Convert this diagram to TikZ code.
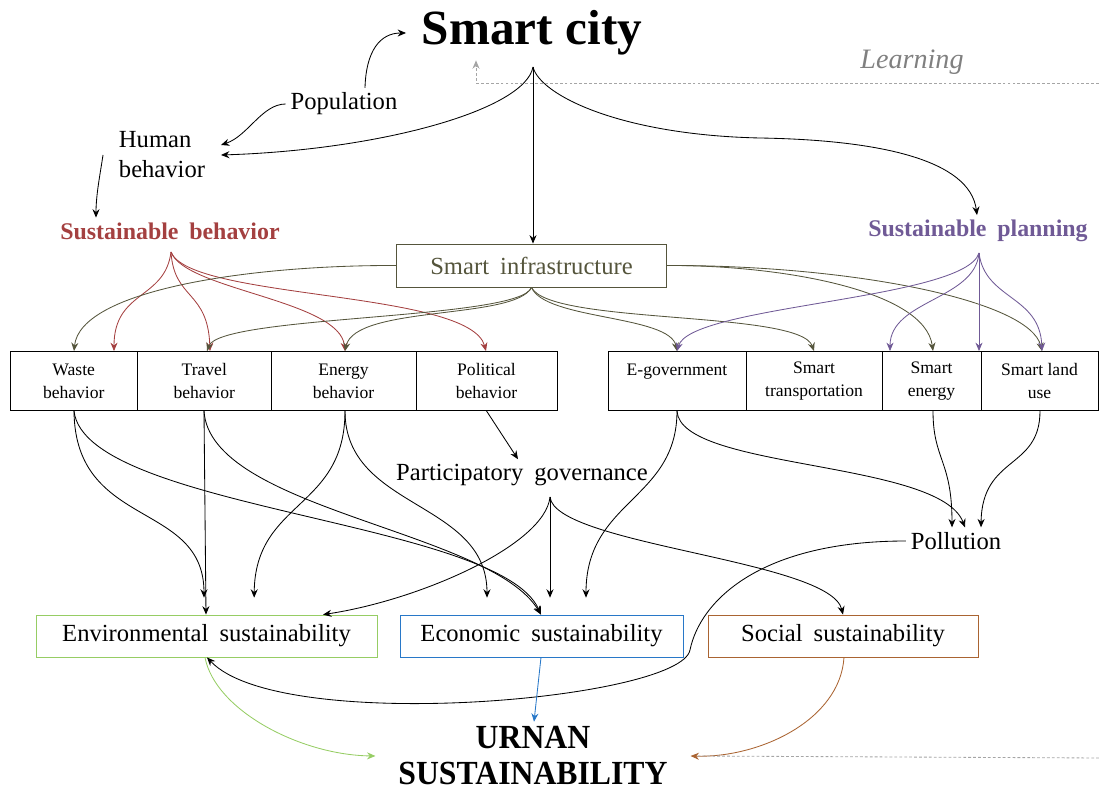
\documentclass[tikz,border=0pt]{standalone}
\usepackage{fontspec}
\setmainfont{Liberation Serif}[WordSpace=1.8]
\newfontfamily\boxfont{Liberation Serif}
\newfontfamily\capsfont{Liberation Serif}[FakeStretch=0.94]
\usetikzlibrary{arrows.meta}
\definecolor{behred}{RGB}{164,64,64}
\definecolor{planpurple}{RGB}{112,90,150}
\definecolor{infraolive}{RGB}{85,85,60}
\definecolor{envgreen}{RGB}{150,205,100}
\definecolor{econblue}{RGB}{40,120,200}
\definecolor{socbrown}{RGB}{170,100,50}
\definecolor{loopgrey}{RGB}{165,165,165}

\begin{document}
\begin{tikzpicture}[x=0.025cm, y=0.025cm,
  >={Stealth[length=6pt,width=5pt,inset=2pt]},
  lbl/.style={font=\fontsize{17.5}{21.3}\selectfont, align=center},
  cell/.style={draw, line width=0.6pt, minimum height=1.475cm, inner sep=0pt,
    font=\boxfont\fontsize{12.5}{16.4}\selectfont, align=center},
  sust/.style={draw, line width=0.6pt, minimum height=1.05cm, inner sep=0pt,
    font=\fontsize{17.5}{21.3}\selectfont},
  arr/.style={->, line width=0.6pt},
  gap/.style={shorten >=12pt},
  loop/.style={loopgrey, line width=0.6pt, dash pattern=on 2pt off 1.5pt}]
\useasboundingbox (0,0) rectangle (1099,791);

% labels
\node[font=\boxfont\bfseries\fontsize{35}{40}\selectfont, outer xsep=8pt] (city) at (532,758) {Smart city};
\node[font=\itshape\fontsize{20}{24}\selectfont, text=gray] (learn) at (912,729) {Learning};
\node[lbl] (pop) at (344,687) {Population};
\node[lbl, align=left, outer xsep=8pt] (human) at (162,636) {Human\\behavior};
\node[font=\bfseries\fontsize{17}{20}\selectfont, text=behred] (sbeh) at (170,560) {Sustainable behavior};
\node[font=\bfseries\fontsize{17}{20}\selectfont, text=planpurple] (spla) at (978,560) {Sustainable planning};
\node[sust, draw=infraolive, text=infraolive, minimum width=6.75cm, minimum height=1.075cm] (infra) at (531.5,525.5) {Smart infrastructure};

% behavior and planning cells
\node[cell, minimum width=3.1875cm] (waste) at (73.75,410) {Waste\\behavior};
\node[cell, minimum width=3.3375cm] (travel) at (204.25,410) {Travel\\behavior};
\node[cell, minimum width=3.625cm] (energy) at (343.5,410) {Energy\\behavior};
\node[cell, minimum width=3.525cm] (political) at (486.5,410) {Political\\behavior};
\node[cell, minimum width=3.45cm] (egov) at (677,410) {E-government\\~};
\node[cell, minimum width=3.4cm] (smarttr) at (814,410) {Smart\\transportation};
\node[cell, minimum width=2.475cm] (smarten) at (931.5,410) {Smart\\energy};
\node[cell, minimum width=2.925cm] (landuse) at (1039.5,410) {Smart land\\use};

\node[lbl] (partgov) at (522,316) {Participatory governance};
\node[lbl] (poll) at (956,250) {Pollution};

\node[sust, draw=envgreen, minimum width=8.525cm] (env) at (206.5,155) {Environmental sustainability};
\node[sust, draw=econblue, minimum width=7.075cm] (econ) at (541.5,155) {Economic sustainability};
\node[sust, draw=socbrown, minimum width=6.75cm] (social) at (843,155) {Social sustainability};
\node[font=\capsfont\bfseries\fontsize{24}{25.6}\selectfont, align=center, outer xsep=13pt] (urban) at (533,35) {URNAN\\SUSTAINABILITY};

\coordinate (cityfork) at (533,724);
\coordinate (bfork) at (171,539);
\coordinate (pfork) at (979,538);
\coordinate (gfork) at (550,294);
\coordinate (toploop) at (1099,708);
\coordinate (botloop) at (1099,33);
\coordinate (pbend) at (690,141);

% top
\draw[arr] (pop.north -| 365,0) .. controls (366,740) and (380,758) .. (city.west);
\draw[arr] (pop.west) .. controls (262,687) and (248,655) .. (human.east |- 0,646);
\draw[arr] (cityfork) .. controls (525,681) and (380,641) .. (human.east);
\draw[arr] (human.west) .. controls (100,616) and (96,596) .. (sbeh.north -| 96,0);
\draw[arr] (cityfork) .. controls (540,696) and (620,656) .. (760,653)
  .. controls (880,651) and (970,631) .. (spla.north -| 977,0);
\draw[arr] (cityfork) -- (cityfork |- infra.north);
\draw[loop, ->] (toploop) -| (city.south -| 476,0);

% sustainable behavior
\draw[arr, behred] (bfork) .. controls (165,491) and (114,501) .. (waste.north -| 114,0);
\draw[arr, behred] (bfork) .. controls (174,491) and (208,501) .. (travel.north -| 210,0);
\draw[arr, behred] (bfork) .. controls (185,501) and (340,491) .. (energy.north -| 345,0);
\draw[arr, behred] (bfork) .. controls (190,491) and (470,501) .. (political.north -| 486,0);

% smart infrastructure
\draw[arr, infraolive] (infra.west) .. controls (250,526) and (80,501) .. (waste.north -| 74,0);
\draw[arr, infraolive] (infra.south) .. controls (520,471) and (220,476) .. (travel.north -| 207,0);
\draw[arr, infraolive] (infra.south) .. controls (515,471) and (355,486) .. (energy.north -| 345,0);
\draw[arr, infraolive] (infra.south) .. controls (545,471) and (670,476) .. (egov.north -| 677,0);
\draw[arr, infraolive] (infra.south) .. controls (550,466) and (800,481) .. (smarttr.north -| 814,0);
\draw[arr, infraolive] (infra.east) .. controls (780,526) and (925,501) .. (smarten.north -| 933,0);
\draw[arr, infraolive] (infra.east) .. controls (850,526) and (1030,491) .. (landuse.north -| 1042,0);

% sustainable planning
\draw[arr, planpurple] (pfork) .. controls (965,491) and (690,486) .. (egov.north -| 677,0);
\draw[arr, planpurple] (pfork) .. controls (975,491) and (890,491) .. (smarten.north -| 890,0);
\draw[arr, planpurple] (pfork) -- (pfork |- landuse.north);
\draw[arr, planpurple] (pfork) .. controls (985,491) and (1040,496) .. (landuse.north -| 1042,0);

% effects
\draw[arr, gap] (waste.south -| 74,0) .. controls (75,261) and (204,291) .. (env.north -| 204,0);
\draw[arr] (travel.south -| 204,0) -- (env.north -| 206,0);
\draw[arr] (waste.south -| 74,0) .. controls (85,281) and (500,271) .. (econ.north -| 541,0);
\draw[arr] (travel.south -| 204,0) .. controls (210,281) and (490,261) .. (econ.north -| 541,0);
\draw[arr, gap] (energy.south -| 345,0) .. controls (345,281) and (255,291) .. (env.north -| 254,0);
\draw[arr, gap] (energy.south -| 345,0) .. controls (345,281) and (487,291) .. (econ.north -| 487,0);
\draw[arr] (political.south) -- (partgov.north -| 518,0);
\draw[arr] (gfork) .. controls (545,246) and (420,191) .. (env.north -| 323,0);
\draw[arr, gap] (gfork) -- (gfork |- econ.north);
\draw[arr] (gfork) .. controls (555,246) and (830,231) .. (social.north -| 843,0);
\draw[arr, gap] (egov.south -| 677,0) .. controls (677,291) and (586,291) .. (econ.north -| 586,0);
\draw[arr] (egov.south -| 677,0) .. controls (680,321) and (940,331) .. (poll.north -| 965,0);
\draw[arr] (smarten.south -| 933,0) .. controls (933,331) and (952,331) .. (poll.north -| 952,0);
\draw[arr] (landuse.south -| 1040,0) .. controls (1040,321) and (982,336) .. (poll.north -| 981,0);
\draw[arr] (poll.west) .. controls (760,250) and (700,190) .. (pbend)
  .. controls (680,91) and (280,56) .. (env.south -| 207,0);

% urban sustainability
\draw[arr, econblue] (econ.south -| 541,0) -- (urban.north -| 534,0);
\draw[arr, envgreen] (env.south -| 205,0) .. controls (215,81) and (300,36) .. (urban.west);
\draw[arr, socbrown] (social.south -| 844,0) .. controls (840,71) and (760,33) .. (urban.east);
\draw[loop] (botloop) -- ([xshift=5pt]urban.east);
\end{tikzpicture}
\end{document}
